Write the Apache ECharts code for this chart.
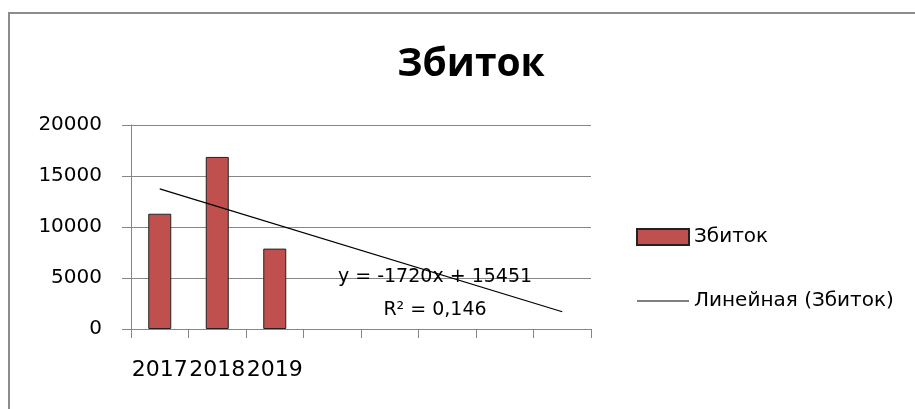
<!DOCTYPE html>
<html>
<head>
<meta charset="utf-8">
<script src="https://cdn.jsdelivr.net/npm/echarts@6/dist/echarts.min.js"></script>
<style>
    html, body { margin: 0; padding: 0; background: #fff; }
    #chart { width: 915px; height: 409px; }
</style>
</head>
<body>
<div id="chart"></div>
<script>
    // data
    const categories = ['2017', '2018', '2019', '', '', '', '', '']
    const lossValues = [11300, 16870, 7880]
    // linear trend line end points (y = -1720x + 15451 at x = 1 and x = 8)
    const trendValues = [13731, null, null, null, null, null, null, 1691]
    const yTicks = { min: 0, max: 20000, interval: 5000 }
    const trendEquation = 'y = -1720x + 15451'
    const trendR2 = 'R² = 0,146'

    const grey = '#868686'
    const font = 'DejaVu Sans'

    const myChart = echarts.init(document.getElementById('chart'))
    myChart.setOption({
        animation: false,
        title: {
            text: 'Збиток',
            left: 466,
            top: 40,
            textAlign: 'center',
            textStyle: { fontFamily: 'Open Sans', fontWeight: 'bold', fontSize: 39, color: '#000' }
        },
        grid: { left: 131, right: 324, top: 125, bottom: 80, containLabel: false },
        legend: {
            orient: 'vertical',
            left: 631,
            top: 222,
            itemWidth: 52,
            itemHeight: 16,
            itemGap: 44,
            itemTextGap: 4,
            textStyle: { fontFamily: font, fontSize: 20, color: '#000' },
            data: [
                { name: 'Збиток', icon: 'rect' },
                { name: 'Линейная (Збиток)', icon: 'path://M0,0 L52,0 L52,1.2 L0,1.2 Z', itemStyle: { color: '#000', borderWidth: 0 } }
            ]
        },
        xAxis: {
            type: 'category',
            data: categories,
            axisLine: { lineStyle: { color: grey, width: 1 } },
            axisTick: { show: true, length: 9, inside: false, lineStyle: { color: grey } },
            axisLabel: { interval: 0, margin: 30, fontFamily: font, fontSize: 22, color: '#000' }
        },
        yAxis: {
            type: 'value',
            min: yTicks.min,
            max: yTicks.max,
            interval: yTicks.interval,
            axisLine: { show: true, lineStyle: { color: grey, width: 1 } },
            axisTick: { show: true, length: 9, lineStyle: { color: grey } },
            axisLabel: { margin: 29, fontFamily: font, fontSize: 20, color: '#000', formatter: v => String(v) },
            splitLine: { show: true, lineStyle: { color: grey, width: 1 } }
        },
        graphic: [
            {
                type: 'polyline',
                shape: { points: [[9, 409], [9, 13], [915, 13]] },
                style: { stroke: '#8c8c8c', lineWidth: 2, fill: null }
            },
            {
                type: 'text',
                x: 435, y: 277,
                style: { text: trendEquation, fontFamily: font, fontSize: 19, fill: '#000', textAlign: 'center', textVerticalAlign: 'middle' },
                z: 10
            },
            {
                type: 'text',
                x: 435, y: 310,
                style: { text: trendR2, fontFamily: font, fontSize: 19, fill: '#000', textAlign: 'center', textVerticalAlign: 'middle' },
                z: 10
            }
        ],
        series: [
            {
                name: 'Збиток',
                type: 'bar',
                barWidth: '40%',
                data: lossValues,
                itemStyle: { color: '#C0504D', borderColor: '#222', borderWidth: 1 }
            },
            {
                name: 'Линейная (Збиток)',
                type: 'line',
                data: trendValues,
                connectNulls: true,
                symbol: 'none',
                itemStyle: { color: '#000' },
                lineStyle: { color: '#000', width: 1.3 },
                z: 5
            }
        ]
    })
</script>
</body>
</html>
